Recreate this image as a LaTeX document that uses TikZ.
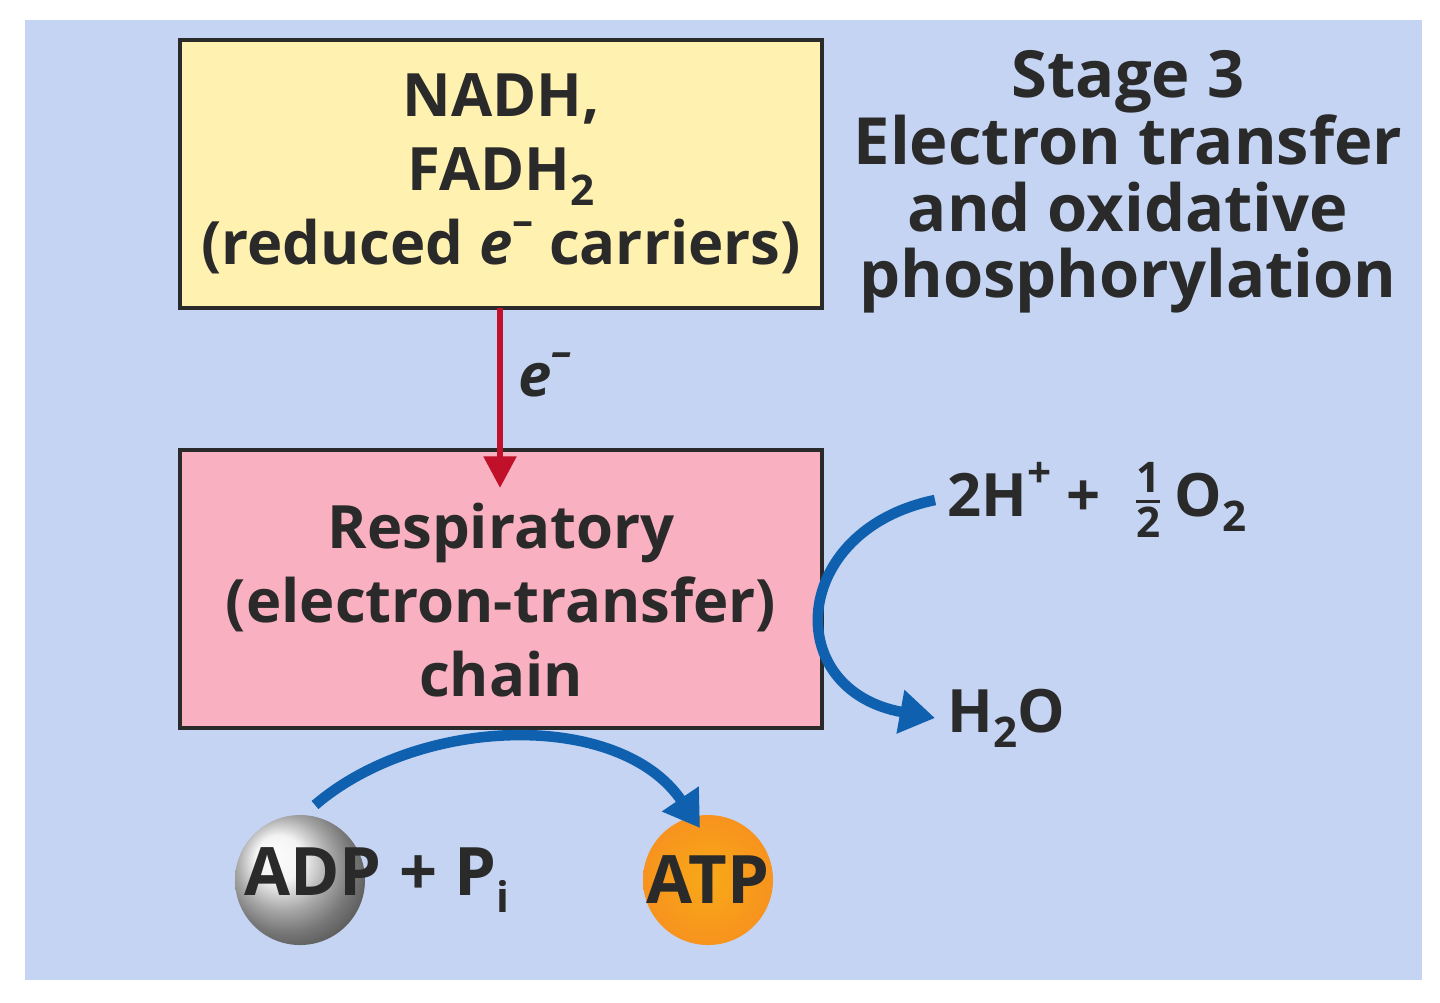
\documentclass[tikz,border=0pt]{standalone}
\usepackage{fontspec}
\setmainfont{Open Sans}
\usetikzlibrary{arrows.meta}
\definecolor{bg}{HTML}{C4D4F2}
\definecolor{yel}{HTML}{FFF2B0}
\definecolor{pnk}{HTML}{F9B0C0}
\definecolor{redA}{HTML}{C0102A}
\definecolor{blueA}{HTML}{1060B0}
\definecolor{txt}{HTML}{2A2A2A}
\definecolor{org}{HTML}{F7931E}
\newcommand{\mysub}[1]{\raisebox{-0.45ex}{\fontsize{12}{12}\selectfont #1}}
\newcommand{\mysup}[1]{\raisebox{0.9ex}{\fontsize{12}{12}\selectfont #1}}
\newcommand{\myhalf}{$\genfrac{}{}{1pt}{}{\text{\fontsize{12}{12}\selectfont\bfseries 1}}{\text{\fontsize{12}{12}\selectfont\bfseries 2}}$}
\usepackage{amsmath}
\begin{document}
\begin{tikzpicture}[x=0.01cm,y=-0.01cm,
  lbl/.style={font=\fontsize{17}{21}\selectfont\bfseries, text=txt, align=center},
  box/.style={draw=txt, line width=1.2pt},
  barrow/.style={draw=blueA, line width=3pt, -{Triangle[length=10pt,width=12pt]}}]
\useasboundingbox (0,0) rectangle (1440,1002);
\fill[white] (0,0) rectangle (1440,1002);
\fill[bg] (25,20) rectangle (1422,980);
\draw[box, fill=yel] (180,40) rectangle (822,308);
\node[lbl] (ytxt) at (501,174) {NADH,\\FADH\mysub{2}\\(reduced \textit{e}\mysup{–} carriers)};
\draw[box, fill=pnk] (180,450) rectangle (822,728);
\node[lbl] (ptxt) at (501,600) {Respiratory\\(electron-transfer)\\chain};
\coordinate (ytop) at (500,308);
\coordinate (pin) at (500,488);
\draw[redA, line width=1.8pt, -{Triangle[length=9pt,width=9pt]}] (ytop) -- (pin);
\node[lbl, font=\fontsize{17}{21}\selectfont\bfseries\itshape] (e) at (545,375) {e\mysup{–}};
\node[lbl, font=\fontsize{18.5}{19}\selectfont\bfseries] (title) at (1128,182) {Stage 3\\Electron transfer\\and oxidative\\phosphorylation};
\node[lbl, anchor=west] (hp) at (935,500) {2H\mysup{+} + \ \myhalf\,O\mysub{2}};
\node[lbl, anchor=west] (h2o) at (935,718) {H\mysub{2}O};
\draw[barrow] (hp.west) .. controls (790,530) and (780,690) .. (h2o.west);
\shade[ball color=gray!12] (300,880) circle (65);
\shade[inner color=org!80!yellow, outer color=org] (708,880) circle (65);
\node[lbl, anchor=west, font=\fontsize{19}{23}\selectfont\bfseries] (adp) at (232,880) {ADP + P\mysub{i}};
\node[lbl, font=\fontsize{19}{23}\selectfont\bfseries] (atp) at (708,880) {ATP};
\coordinate (s) at (315,805);
\coordinate (t) at (700,828);
\draw[barrow] (s) .. controls (420,715) and (620,710) .. (t);
\end{tikzpicture}
\end{document}
